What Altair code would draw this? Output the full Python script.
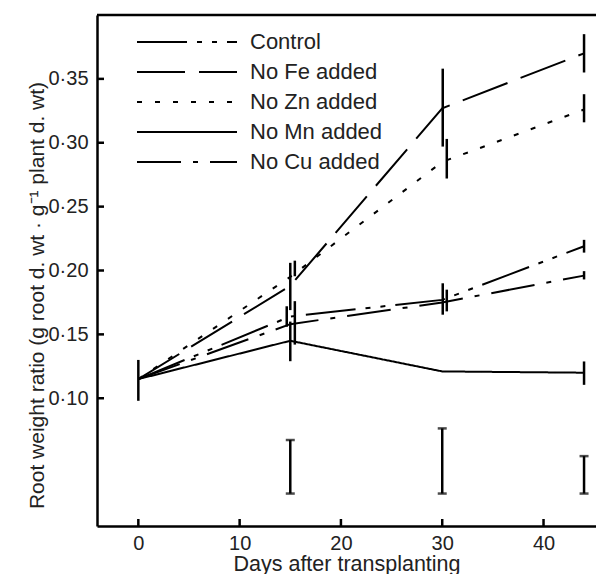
import altair as alt
import pandas as pd

# ---------------- data ----------------
days = [0, 15, 30, 44]
series_names = ["Control", "No Fe added", "No Zn added", "No Mn added", "No Cu added"]
control = [0.115, 0.164, 0.177, 0.219]
no_fe = [0.115, 0.188, 0.327, 0.370]
no_zn = [0.115, 0.195, 0.285, 0.326]
no_mn = [0.115, 0.145, 0.121, 0.120]
no_cu = [0.115, 0.158, 0.175, 0.196]
dash_patterns = [[50, 10, 5, 10, 5, 10], [48, 14], [5, 13], [1, 0], [44, 12, 5, 12]]

# error bars on the curves (day position, lower, upper)
err_day = [0, 15.0, 15.0, 14.65, 15.45, 15.45, 30.05, 30.05, 30.45, 30.45, 44.0, 44.0, 44.0, 44.0, 44.0]
err_lo = [0.098, 0.169, 0.129, 0.156, 0.142, 0.1955, 0.297, 0.1654, 0.272, 0.168, 0.355, 0.316, 0.214, 0.193, 0.1105]
err_hi = [0.130, 0.206, 0.160, 0.172, 0.176, 0.2077, 0.358, 0.190, 0.303, 0.185, 0.385, 0.338, 0.224, 0.1995, 0.1288]

# LSD bars at the bottom
lsd_day = [15, 30, 44]
lsd_lo = [0.0254, 0.0254, 0.0254]
lsd_hi = [0.0673, 0.0764, 0.0547]

y_ticks = [0.10, 0.15, 0.20, 0.25, 0.30, 0.35]
x_ticks = [0, 10, 20, 30, 40]

W, H = 499, 511
FONT = "Liberation Sans"
TXT = "#222222"

rows = []
for name, vals in zip(series_names, [control, no_fe, no_zn, no_mn, no_cu]):
    for d, v in zip(days, vals):
        rows.append({"series": name, "day": d, "val": v})
lines_df = pd.DataFrame(rows)
err_df = pd.DataFrame({"day": err_day, "lo": err_lo, "hi": err_hi})
lsd_df = pd.DataFrame({"day": lsd_day, "lo": lsd_lo, "hi": lsd_hi})
yt_df = pd.DataFrame({"val": y_ticks})
xt_df = pd.DataFrame({"day": x_ticks})

xscale = alt.Scale(domain=[-4.08, 45.18], nice=False, zero=False)
yscale = alt.Scale(domain=[0.0, 0.40], nice=False, zero=False)

x_axis = alt.Axis(values=x_ticks, title="Days after transplanting", labelPadding=7,
                  titleY=44, titleBaseline="alphabetic", titleFontSize=21.5)
y_axis = alt.Axis(values=y_ticks, title="Root weight ratio (g root d. wt · g⁻¹ plant d. wt)",
                  labelExpr="replace(format(datum.value, '.2f'), '.', '·')",
                  labelPadding=9, titleX=-54, titleY=280, titleAngle=270,
                  titleBaseline="alphabetic", titleAlign="center", titleFontSize=21)

X = lambda f: alt.X(f, scale=xscale, axis=x_axis)
Y = lambda f: alt.Y(f, scale=yscale, axis=y_axis)

lines = alt.Chart(lines_df).mark_line(color="black", strokeWidth=2, strokeCap="butt").encode(
    x=X("day:Q"),
    y=Y("val:Q"),
    strokeDash=alt.StrokeDash(
        "series:N",
        scale=alt.Scale(domain=series_names, range=dash_patterns),
        sort=series_names,
        legend=alt.Legend(
            title=None, orient="none", legendX=29, legendY=16,
            symbolType="M0,0H10", symbolSize=400, symbolStrokeWidth=2,
            symbolStrokeColor="black", labelFontSize=22, labelFont=FONT,
            labelColor=TXT, labelOffset=102, rowPadding=8,
        ),
    ),
    detail="series:N",
)

errs = alt.Chart(err_df).mark_rule(color="black", strokeWidth=2.5).encode(
    x=X("day:Q"), y=Y("lo:Q"), y2="hi:Q",
)

lsd = alt.Chart(lsd_df).mark_rule(color="black", strokeWidth=2.5).encode(
    x=X("day:Q"), y=Y("lo:Q"), y2="hi:Q",
)
lsd_lo_cap = alt.Chart(lsd_df).mark_tick(color="black", orient="horizontal", size=9, thickness=2.5).encode(
    x=X("day:Q"), y=Y("lo:Q"),
)
lsd_hi_cap = alt.Chart(lsd_df).mark_tick(color="black", orient="horizontal", size=9, thickness=2.5).encode(
    x=X("day:Q"), y=Y("hi:Q"),
)

ytick_marks = alt.Chart(yt_df).mark_rule(color="black", strokeWidth=2.5).encode(
    y=Y("val:Q"), x=alt.value(0), x2=alt.value(7),
)
xtick_marks = alt.Chart(xt_df).mark_rule(color="black", strokeWidth=2.5).encode(
    x=X("day:Q"), y=alt.value(H), y2=alt.value(H - 7),
)
top_line = alt.Chart(pd.DataFrame({"k": [0]})).mark_rule(color="black", strokeWidth=2.5).encode(
    x=alt.value(0), x2=alt.value(W), y=alt.value(0),
)

chart = alt.layer(
    lines, errs, lsd, lsd_lo_cap, lsd_hi_cap, ytick_marks, xtick_marks, top_line
).properties(
    width=W, height=H,
    autosize=alt.AutoSizeParams(type="none"),
    padding={"left": 89, "top": 7, "right": 0, "bottom": 48},
).configure_view(stroke=None).configure_axis(
    domainColor="black", domainWidth=2.5, ticks=False, grid=False,
    labelFont=FONT, labelFontSize=20, labelColor=TXT,
    titleFont=FONT, titleFontSize=20, titleFontWeight="normal", titleColor=TXT,
)

chart.save("out.html", embed_options={"renderer": "svg", "actions": False})
